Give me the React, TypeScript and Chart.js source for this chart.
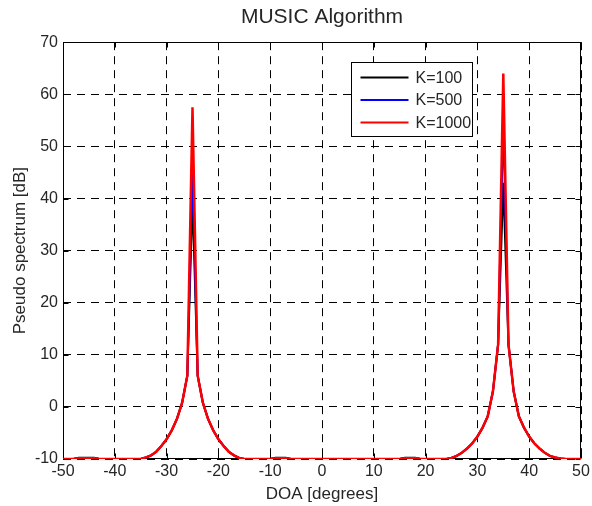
import { useEffect, useRef } from "react";
import { Chart, registerables } from "chart.js";

Chart.register(...registerables);

const doa = [
  -50, -49, -48, -47, -46, -45, -44, -43, -42, -41,
  -40, -39, -38, -37, -36, -35, -34, -33, -32, -31,
  -30, -29, -28, -27, -26, -25, -24, -23, -22, -21,
  -20, -19, -18, -17, -16, -15, -14, -13, -12, -11,
  -10, -9, -8, -7, -6, -5, -4, -3, -2, -1,
  0, 1, 2, 3, 4, 5, 6, 7, 8, 9,
  10, 11, 12, 13, 14, 15, 16, 17, 18, 19,
  20, 21, 22, 23, 24, 25, 26, 27, 28, 29,
  30, 31, 32, 33, 34, 35, 36, 37, 38, 39,
  40, 41, 42, 43, 44, 45, 46, 47, 48, 49,
  50,
];

const k100 = [
  -10, -10, -10, -9.75, -9.75, -9.75, -9.75, -10, -10, -10,
  -10, -10, -10, -10, -10, -10, -9.7, -9.3, -8.6, -7.5,
  -6.2, -4.5, -2.3, 0.8, 6, 40, 6, 0.8, -2.3, -4.5,
  -6.2, -7.5, -8.6, -9.3, -9.8, -10, -10, -10, -10, -10,
  -10, -9.75, -9.75, -9.75, -10, -10, -10, -10, -10, -10,
  -10, -10, -10, -10, -10, -10, -10, -10, -10, -10,
  -10, -10, -10, -10, -10, -10, -9.75, -9.75, -9.75, -10,
  -10, -10, -10, -10, -10, -9.8, -9.4, -8.8, -8.0, -7.0,
  -5.7, -4.0, -1.8, 3, 12, 43, 12, 3, -1.8, -4.0,
  -5.7, -7.0, -8.0, -8.8, -9.4, -9.7, -9.9, -10, -10, -10,
  -10,
];

const k500 = [
  -10, -10, -10, -9.8, -9.8, -9.8, -9.8, -10, -10, -10,
  -10, -10, -10, -10, -10, -10, -9.7, -9.3, -8.6, -7.5,
  -6.2, -4.5, -2.3, 0.8, 6, 46, 6, 0.8, -2.3, -4.5,
  -6.2, -7.5, -8.6, -9.3, -9.8, -10, -10, -10, -10, -10,
  -10, -9.8, -9.8, -9.8, -10, -10, -10, -10, -10, -10,
  -10, -10, -10, -10, -10, -10, -10, -10, -10, -10,
  -10, -10, -10, -10, -10, -10, -9.8, -9.8, -9.8, -10,
  -10, -10, -10, -10, -10, -9.8, -9.4, -8.8, -8.0, -7.0,
  -5.7, -4.0, -1.8, 3, 12, 55, 12, 3, -1.8, -4.0,
  -5.7, -7.0, -8.0, -8.8, -9.4, -9.7, -9.9, -10, -10, -10,
  -10,
];

const k1000 = [
  -10, -10, -10, -9.85, -9.85, -9.85, -9.85, -10, -10, -10,
  -10, -10, -10, -10, -10, -10, -9.7, -9.3, -8.6, -7.5,
  -6.2, -4.5, -2.3, 0.8, 6, 57.5, 6, 0.8, -2.3, -4.5,
  -6.2, -7.5, -8.6, -9.3, -9.8, -10, -10, -10, -10, -10,
  -10, -9.85, -9.85, -9.85, -10, -10, -10, -10, -10, -10,
  -10, -10, -10, -10, -10, -10, -10, -10, -10, -10,
  -10, -10, -10, -10, -10, -10, -9.85, -9.85, -9.85, -10,
  -10, -10, -10, -10, -10, -9.8, -9.4, -8.8, -8.0, -7.0,
  -5.7, -4.0, -1.8, 3, 12, 64, 12, 3, -1.8, -4.0,
  -5.7, -7.0, -8.0, -8.8, -9.4, -9.7, -9.9, -10, -10, -10,
  -10,
];

const seriesLabels = ["K=100", "K=500", "K=1000"];
const seriesColors = ["#000000", "#0000ff", "#ff0000"];
const seriesWidths = [2, 2, 2.5];

const FONT = "'Liberation Sans', Arial, Helvetica, sans-serif";
const TEXT = "#262626";

const framePlugin = {
  id: "frame",
  beforeDatasetsDraw(chart: any) {
    const { ctx, chartArea: a, scales } = chart;
    ctx.save();
    ctx.strokeStyle = "#000";
    ctx.lineWidth = 1;
    ctx.setLineDash([]);
    const L = Math.round(a.left) + 0.5;
    const R = Math.round(a.right) - 0.5;
    const T = Math.round(a.top) + 0.5;
    const B = Math.round(a.bottom) - 0.5;
    ctx.strokeRect(L, T, R - L, B - T);
    const tl = 5;
    ctx.beginPath();
    scales.x.ticks.forEach((t: any) => {
      const px = Math.round(scales.x.getPixelForValue(t.value)) + 0.5;
      ctx.moveTo(px, B);
      ctx.lineTo(px, B - tl);
      ctx.moveTo(px, T);
      ctx.lineTo(px, T + tl);
    });
    scales.y.ticks.forEach((t: any) => {
      const py = Math.round(scales.y.getPixelForValue(t.value)) + 0.5;
      ctx.moveTo(L, py);
      ctx.lineTo(L + tl, py);
      ctx.moveTo(R, py);
      ctx.lineTo(R - tl, py);
    });
    ctx.stroke();
    ctx.restore();
  },
};

const legendPlugin = {
  id: "boxLegend",
  afterDraw(chart: any) {
    const { ctx, chartArea: a } = chart;
    const x = Math.round(a.left + 288) + 0.5;
    const y = Math.round(a.top + 20) + 0.5;
    const w = 121;
    const h = 74;
    ctx.save();
    ctx.fillStyle = "#fff";
    ctx.fillRect(x, y, w, h);
    ctx.strokeStyle = "#000";
    ctx.lineWidth = 1;
    ctx.setLineDash([]);
    ctx.strokeRect(x, y, w, h);
    ctx.font = `16px ${FONT}`;
    ctx.textBaseline = "middle";
    ctx.textAlign = "left";
    chart.data.datasets.forEach((ds: any, i: number) => {
      const ry = y + 15 + i * 22.5;
      ctx.strokeStyle = ds.borderColor;
      ctx.lineWidth = 2;
      ctx.beginPath();
      ctx.moveTo(x + 9, ry);
      ctx.lineTo(x + 57, ry);
      ctx.stroke();
      ctx.fillStyle = TEXT;
      ctx.fillText(ds.label, x + 64, ry + 1);
    });
    ctx.restore();
  },
};

export default function App() {
  const ref = useRef<HTMLCanvasElement | null>(null);

  useEffect(() => {
    if (!ref.current) return;
    const series = [k100, k500, k1000];
    const chart = new Chart(ref.current, {
      type: "line",
      data: {
        datasets: series.map((vals, i) => ({
          label: seriesLabels[i],
          data: doa.map((d, j) => ({ x: d, y: vals[j] })),
          borderColor: seriesColors[i],
          backgroundColor: seriesColors[i],
          borderWidth: seriesWidths[i],
          pointRadius: 0,
          tension: 0,
          fill: false,
          order: 2 - i,
        })),
      },
      options: {
        responsive: false,
        animation: false,
        layout: { padding: { left: 0, right: 11, top: 0, bottom: 0 } },
        plugins: {
          legend: { display: false },
          tooltip: { enabled: false },
          title: {
            display: true,
            fullSize: false,
            text: "MUSIC Algorithm",
            color: TEXT,
            font: { family: FONT, size: 21, weight: "normal" },
            padding: { top: 5, bottom: 12 },
          },
        },
        scales: {
          x: {
            type: "linear",
            min: -50,
            max: 50,
            ticks: {
              stepSize: 10,
              color: TEXT,
              font: { family: FONT, size: 16 },
              padding: 3,
              maxRotation: 0,
            },
            grid: { color: "#000", lineWidth: 1, drawTicks: false },
            border: { display: false, dash: [8, 6] },
            title: {
              display: true,
              text: "DOA [degrees]",
              color: TEXT,
              font: { family: FONT, size: 17 },
              padding: { top: 0, bottom: 1 },
            },
            afterFit(scale: any) {
              scale.height = 47;
              scale.paddingLeft = 0;
              scale.paddingRight = 0;
            },
          },
          y: {
            type: "linear",
            min: -10,
            max: 70,
            ticks: {
              stepSize: 10,
              color: TEXT,
              font: { family: FONT, size: 16 },
              padding: 5,
            },
            grid: { color: "#000", lineWidth: 1, drawTicks: false },
            border: { display: false, dash: [8, 6] },
            title: {
              display: true,
              text: "Pseudo spectrum [dB]",
              color: TEXT,
              font: { family: FONT, size: 17 },
              padding: { top: 10, bottom: 0 },
            },
            afterFit(scale: any) {
              scale.width = 63;
              scale.paddingTop = 0;
              scale.paddingBottom = 0;
            },
          },
        },
      },
      plugins: [framePlugin, legendPlugin],
    });
    return () => chart.destroy();
  }, []);

  return (
    <div style={{ position: "fixed", left: 0, top: 0, width: 592, height: 506, background: "#fff" }}>
      <canvas ref={ref} width={592} height={506} style={{ display: "block" }} />
    </div>
  );
}
